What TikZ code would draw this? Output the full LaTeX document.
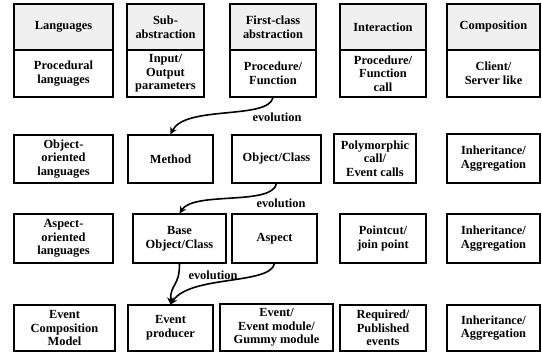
\documentclass[tikz,border=0pt]{standalone}
\usepackage{fontspec}
\setmainfont{Liberation Serif}
\usetikzlibrary{arrows.meta}
\definecolor{hdrgray}{HTML}{F0F0F0}
\tikzset{
  cell/.style={draw=black, line width=1.2pt, inner sep=0pt, align=center,
    font=\fontsize{12.4}{13.6}\selectfont\bfseries},
  hdr/.style={cell, fill=hdrgray},
  evo/.style={line width=1.6pt, -{Stealth[length=7pt,width=7pt]}},
  evolab/.style={inner sep=0pt, font=\fontsize{12.4}{13.6}\selectfont\bfseries}
}
\begin{document}
\begin{tikzpicture}[x=1pt,y=-1pt]
\useasboundingbox (0,0) rectangle (542,360);
% Row 1 headers
\node[hdr, minimum width=99pt, minimum height=46pt] (h1) at (63.5,27) {Languages};
\node[hdr, minimum width=77pt, minimum height=46pt] (h2) at (165.5,27) {Sub-\\abstraction};
\node[hdr, minimum width=86pt, minimum height=46pt] (h3) at (273,27) {First-class\\abstraction};
\node[hdr, minimum width=86pt, minimum height=46pt] (h4) at (383,27) {Interaction};
\node[hdr, minimum width=93pt, minimum height=46pt] (h5) at (493.5,27) {Composition};
% Row 1 content
\node[cell, minimum width=99pt, minimum height=47pt] (p1) at (63.5,73.5) {Procedural\\languages};
\node[cell, minimum width=77pt, minimum height=47pt] (p2) at (165.5,73.5) {Input/\\Output\\parameters};
\node[cell, minimum width=86pt, minimum height=47pt] (pf) at (273,73.5) {Procedure/\\Function};
\node[cell, minimum width=86pt, minimum height=47pt] (p4) at (383,73.5) {Procedure/\\Function\\call};
\node[cell, minimum width=93pt, minimum height=47pt] (p5) at (493.5,73.5) {Client/\\Server like};
% Row 2
\node[cell, minimum width=99pt, minimum height=48pt] (o1) at (63.5,159) {Object-\\oriented\\languages};
\node[cell, minimum width=85pt, minimum height=48pt] (meth) at (170.5,159) {Method};
\node[cell, minimum width=89pt, minimum height=48pt] (oc) at (276.5,159) {Object/Class};
\node[cell, minimum width=82pt, minimum height=49pt] (o4) at (375,158.5) {Polymorphic\\call/\\Event calls};
\node[cell, minimum width=93pt, minimum height=49pt] (o5) at (493.5,158.5) {Inheritance/\\Aggregation};
% Row 3
\node[cell, minimum width=99pt, minimum height=49pt] (a1) at (63.5,238.5) {Aspect-\\oriented\\languages};
\node[cell, minimum width=93pt, minimum height=49pt] (base) at (179.5,238.5) {Base\\Object/Class};
\node[cell, minimum width=85pt, minimum height=49pt] (asp) at (274.5,238.5) {Aspect};
\node[cell, minimum width=86pt, minimum height=49pt] (a4) at (383,238.5) {Pointcut/\\join point};
\node[cell, minimum width=93pt, minimum height=49pt] (a5) at (493.5,238.5) {Inheritance/\\Aggregation};
% Row 4
\node[cell, minimum width=101pt, minimum height=46pt] (e1) at (64.5,328) {Event\\Composition\\Model};
\node[cell, minimum width=85pt, minimum height=46pt] (prod) at (170.5,328) {Event\\producer};
\node[cell, minimum width=113pt, minimum height=47pt] (e3) at (276.5,327.5) {Event/\\Event module/\\Gummy module};
\node[cell, minimum width=86pt, minimum height=46pt] (e4) at (383,328) {Required/\\Published\\events};
\node[cell, minimum width=93pt, minimum height=46pt] (e5) at (493.5,328) {Inheritance/\\Aggregation};
% Evolution arrows
\draw[evo] (pf.south) .. controls (268,120) and (185,105) .. (meth.north);
\node[evolab] (l1) at (277,117) {evolution};
\draw[evo] (oc.south) .. controls (272,206) and (194,191) .. (base.north);
\node[evolab] (l2) at (281,203) {evolution};
\draw[evo] (base.south) .. controls (179.5,287) and (170.5,283) .. (prod.north);
\draw[evo] (asp.south) .. controls (270,285) and (190,275) .. (prod.north);
\node[evolab] (l3) at (213,275) {evolution};
\end{tikzpicture}
\end{document}
